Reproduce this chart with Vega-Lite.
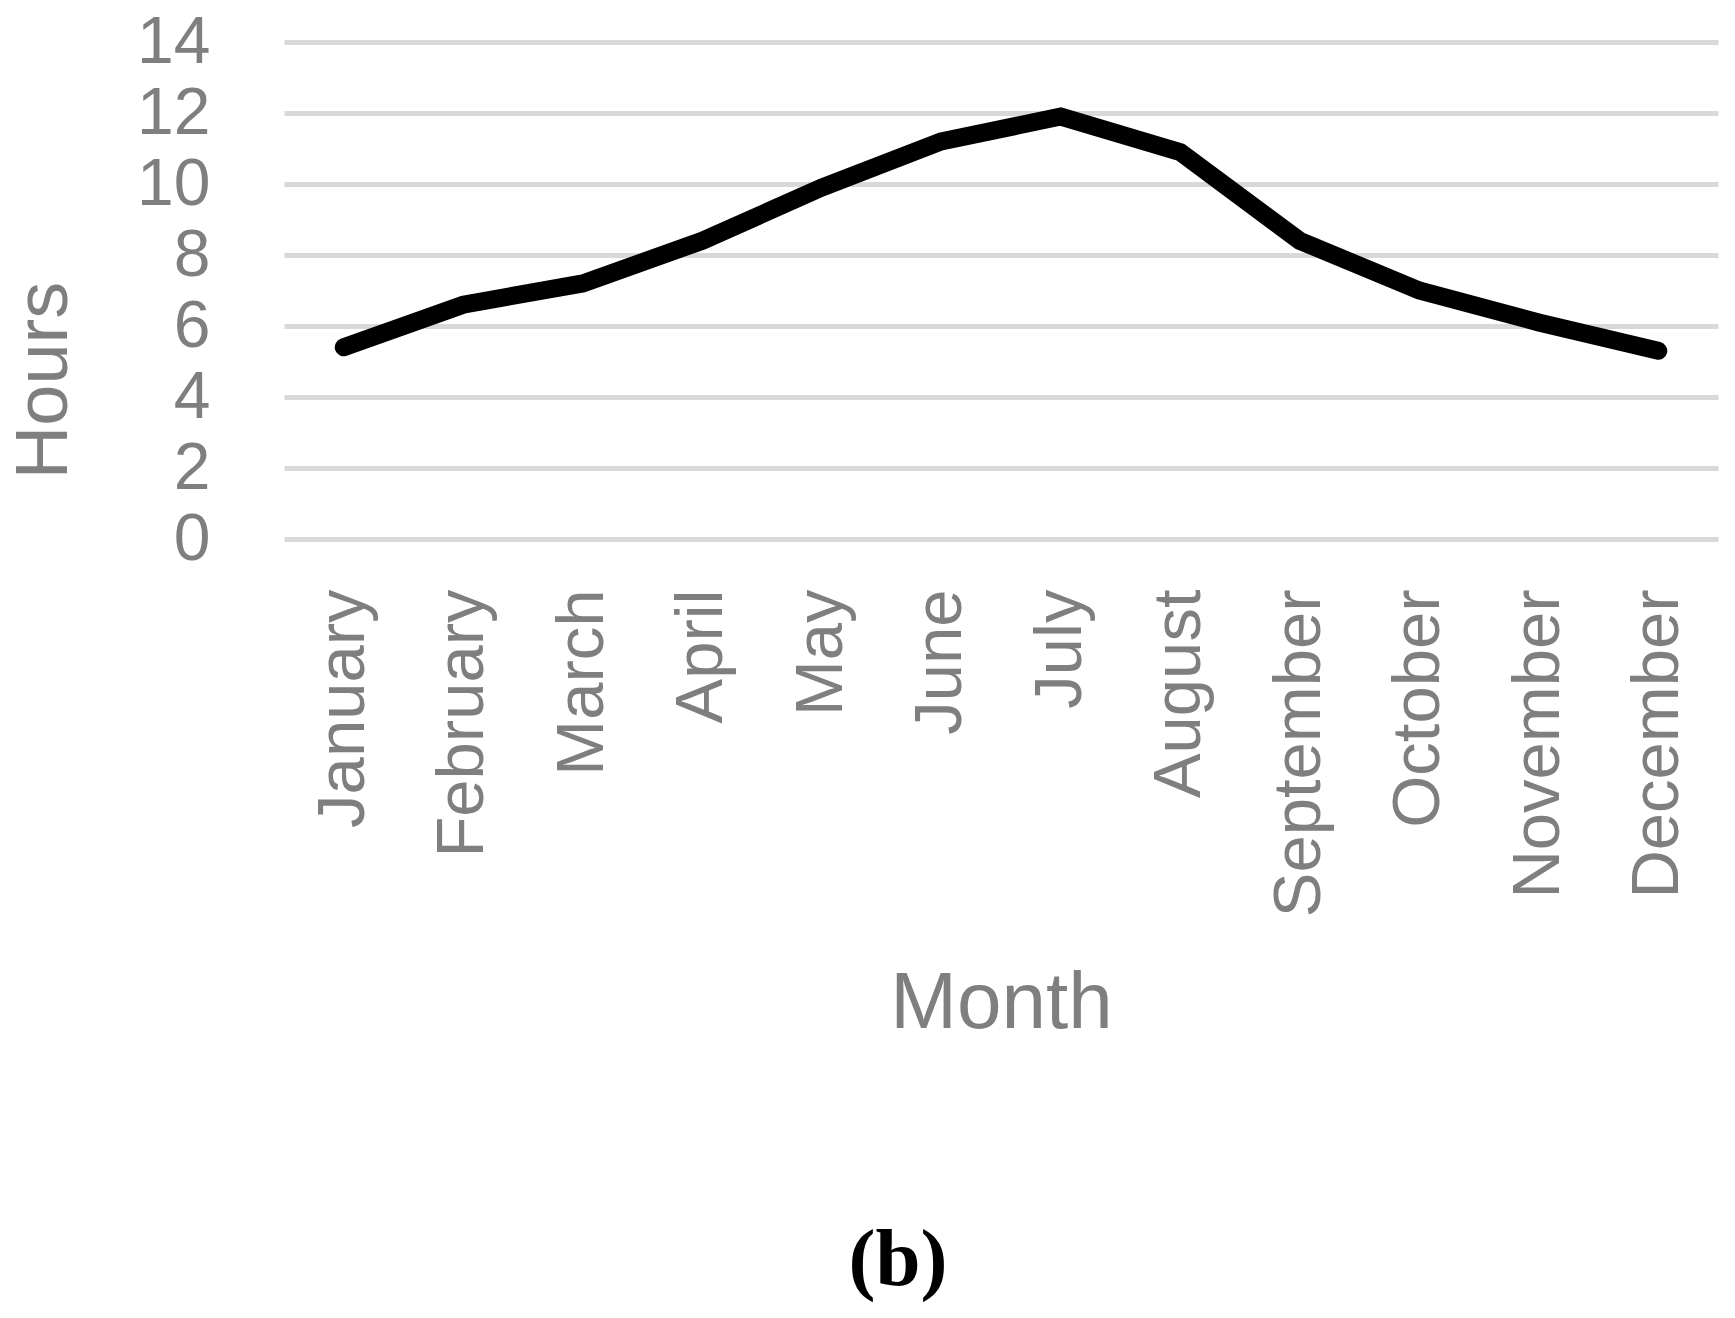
{
  "$schema": "https://vega.github.io/schema/vega-lite/v6.json",
  "width": 1434,
  "height": 497,
  "autosize": "none",
  "padding": {"left": 284, "top": 42, "right": 17, "bottom": 779},
  "background": "white",
  "title": {
    "text": "(b)",
    "orient": "bottom",
    "anchor": "middle",
    "font": "Liberation Serif",
    "fontWeight": "bold",
    "fontSize": 81,
    "color": "black",
    "offset": 178,
    "dx": -103,
    "baseline": "top"
  },
  "data": {
    "values": [
      {"month": "January", "hours": 5.4},
      {"month": "February", "hours": 6.6},
      {"month": "March", "hours": 7.2},
      {"month": "April", "hours": 8.4},
      {"month": "May", "hours": 9.9},
      {"month": "June", "hours": 11.2},
      {"month": "July", "hours": 11.9},
      {"month": "August", "hours": 10.9},
      {"month": "September", "hours": 8.4},
      {"month": "October", "hours": 7.0},
      {"month": "November", "hours": 6.1},
      {"month": "December", "hours": 5.3}
    ]
  },
  "mark": {"type": "line", "color": "black", "strokeWidth": 18, "strokeCap": "round", "strokeJoin": "miter"},
  "encoding": {
    "x": {
      "field": "month",
      "type": "ordinal",
      "sort": null,
      "title": "Month",
      "scale": {"type": "band", "paddingInner": 0, "paddingOuter": 0},
      "axis": {
        "labelAngle": -90,
        "labelFont": "Liberation Sans",
        "labelFontSize": 67,
        "labelColor": "#7f7f7f",
        "labelPadding": 50,
        "labelLimit": 0,
        "labelOverlap": false,
        "ticks": false,
        "domain": false,
        "grid": false,
        "titleFont": "Liberation Sans",
        "titleFontSize": 80,
        "titleFontWeight": "normal",
        "titleColor": "#7f7f7f",
        "titleAnchor": "middle",
        "titleBaseline": "top",
        "titleY": 425
      }
    },
    "y": {
      "field": "hours",
      "type": "quantitative",
      "title": "Hours",
      "scale": {"domain": [0, 14], "nice": false},
      "axis": {
        "values": [0, 2, 4, 6, 8, 10, 12, 14],
        "labelFont": "Liberation Sans",
        "labelFontSize": 66,
        "labelColor": "#7f7f7f",
        "labelPadding": 74,
        "ticks": false,
        "domain": false,
        "grid": true,
        "gridColor": "#d9d9d9",
        "gridWidth": 5,
        "titleFont": "Liberation Sans",
        "titleFontSize": 74,
        "titleFontWeight": "normal",
        "titleColor": "#7f7f7f",
        "titleAngle": -90,
        "titleX": -218,
        "titleY": 338,
        "titleAlign": "center",
        "titleBaseline": "alphabetic"
      }
    }
  },
  "config": {"view": {"stroke": null}}
}
